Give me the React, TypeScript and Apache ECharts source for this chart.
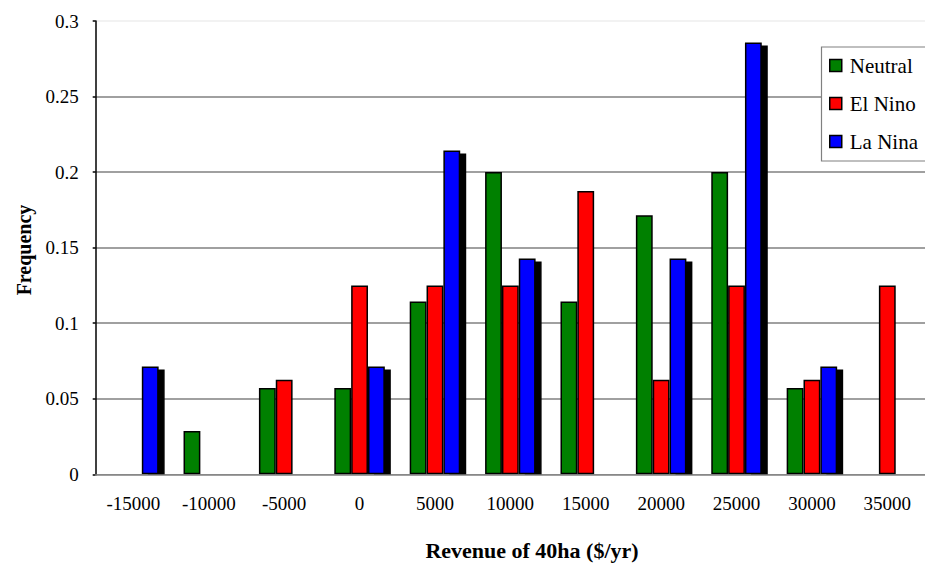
import React, { useEffect, useRef } from "react";
import * as echarts from "echarts";

// Revenue bins ($/yr) and relative frequency per ENSO phase
const categories = ["-15000", "-10000", "-5000", "0", "5000", "10000", "15000", "20000", "25000", "30000", "35000"];
const neutral = [null, 0.0286, 0.0571, 0.0571, 0.1143, 0.2, 0.1143, 0.1714, 0.2, 0.0571, null];
const elNino = [null, null, 0.0625, 0.125, 0.125, 0.125, 0.1875, 0.0625, 0.125, 0.0625, 0.125];
const laNina = [0.0714, null, null, 0.0714, 0.2143, 0.1429, null, 0.1429, 0.2857, 0.0714, null];
const seriesNames = ["Neutral", "El Nino", "La Nina"];
const seriesColors = ["#008000", "#ff0000", "#0000ff"];

const FONT = "'Liberation Serif', 'Times New Roman', serif";

export default function App() {
  const ref = useRef<HTMLDivElement>(null);

  useEffect(() => {
    if (!ref.current) return;
    const chart = echarts.init(ref.current, null, { renderer: "svg" });
    const values = [neutral, elNino, laNina];

    chart.setOption({
      animation: false,
      backgroundColor: "#ffffff",
      textStyle: { fontFamily: FONT },
      grid: { left: 95.7, top: 21, bottom: 90.7, right: -7, containLabel: false },
      legend: {
        orient: "vertical",
        left: 821,
        top: 47,
        padding: [8, 0, 8, 8],
        itemGap: 17,
        itemWidth: 12,
        itemHeight: 12,
        icon: "rect",
        borderWidth: 0,
        borderColor: "transparent",
        backgroundColor: "transparent",
        itemStyle: { borderColor: "#000", borderWidth: 1.5, shadowBlur: 0, shadowOffsetX: 0, shadowOffsetY: 0 },
        textStyle: { fontFamily: FONT, fontSize: 21, color: "#000", padding: [0, 0, 0, 3] },
        data: seriesNames,
      },
      xAxis: {
        type: "category",
        data: categories,
        boundaryGap: true,
        z: 20,
        axisLine: { lineStyle: { color: "#808080", width: 1.5 } },
        axisTick: { inside: true, length: 6, lineStyle: { color: "#000", width: 1 } },
        axisLabel: { fontFamily: FONT, fontSize: 19, color: "#000", margin: 20 },
        splitLine: { show: false },
      },
      yAxis: {
        type: "value",
        min: 0,
        max: 0.3,
        interval: 0.05,
        axisLine: { show: true, lineStyle: { color: "#000", width: 1.5 } },
        axisTick: { show: true, length: 3, lineStyle: { color: "#000", width: 1.5 } },
        axisLabel: { fontFamily: FONT, fontSize: 19, color: "#000", margin: 17 },
        splitLine: {
          show: true,
          lineStyle: {
            color: ["#808080", "#808080", "#808080", "#808080", "#808080", "#808080", "#eeeeee"],
            width: 1.5,
          },
        },
      },
      graphic: [
        {
          // keeps the bar drop shadows from hanging below the category axis
          type: "rect",
          z: 10,
          shape: { x: 97, y: 475.1, width: 840, height: 6 },
          style: { fill: "#ffffff" },
        },
        {
          // legend panel, open towards the right edge of the page
          type: "rect",
          z: 3,
          shape: { x: 821.5, y: 47, width: 130, height: 114 },
          style: { fill: "#ffffff" },
        },
        {
          type: "polyline",
          z: 3,
          shape: { points: [[960, 47], [821.5, 47], [821.5, 161], [960, 161]] },
          style: { stroke: "#808080", lineWidth: 1.2, fill: "none" },
        },
        {
          type: "text",
          x: 532,
          y: 550,
          style: {
            text: "Revenue of 40ha ($/yr)",
            fontFamily: FONT,
            fontSize: 22,
            fontWeight: "bold",
            fill: "#000",
            align: "center",
            verticalAlign: "middle",
          },
        },
        {
          type: "text",
          x: 24,
          y: 250,
          rotation: Math.PI / 2,
          style: {
            text: "Frequency",
            fontFamily: FONT,
            fontSize: 20,
            fontWeight: "bold",
            fill: "#000",
            align: "center",
            verticalAlign: "middle",
          },
        },
      ],
      series: seriesNames.map((name, i) => ({
        name,
        type: "bar",
        data: values[i],
        barGap: "0%",
        barCategoryGap: "33%",
        itemStyle: {
          color: seriesColors[i],
          borderColor: "#000",
          borderWidth: 1.5,
          ...(i === 2
            ? { shadowColor: "#000", shadowBlur: 0, shadowOffsetX: 6, shadowOffsetY: 3 }
            : {}),
        },
      })),
    });

    return () => chart.dispose();
  }, []);

  return (
    <div
      ref={ref}
      style={{ position: "fixed", left: 0, top: 0, width: 925, height: 565 }}
    />
  );
}
